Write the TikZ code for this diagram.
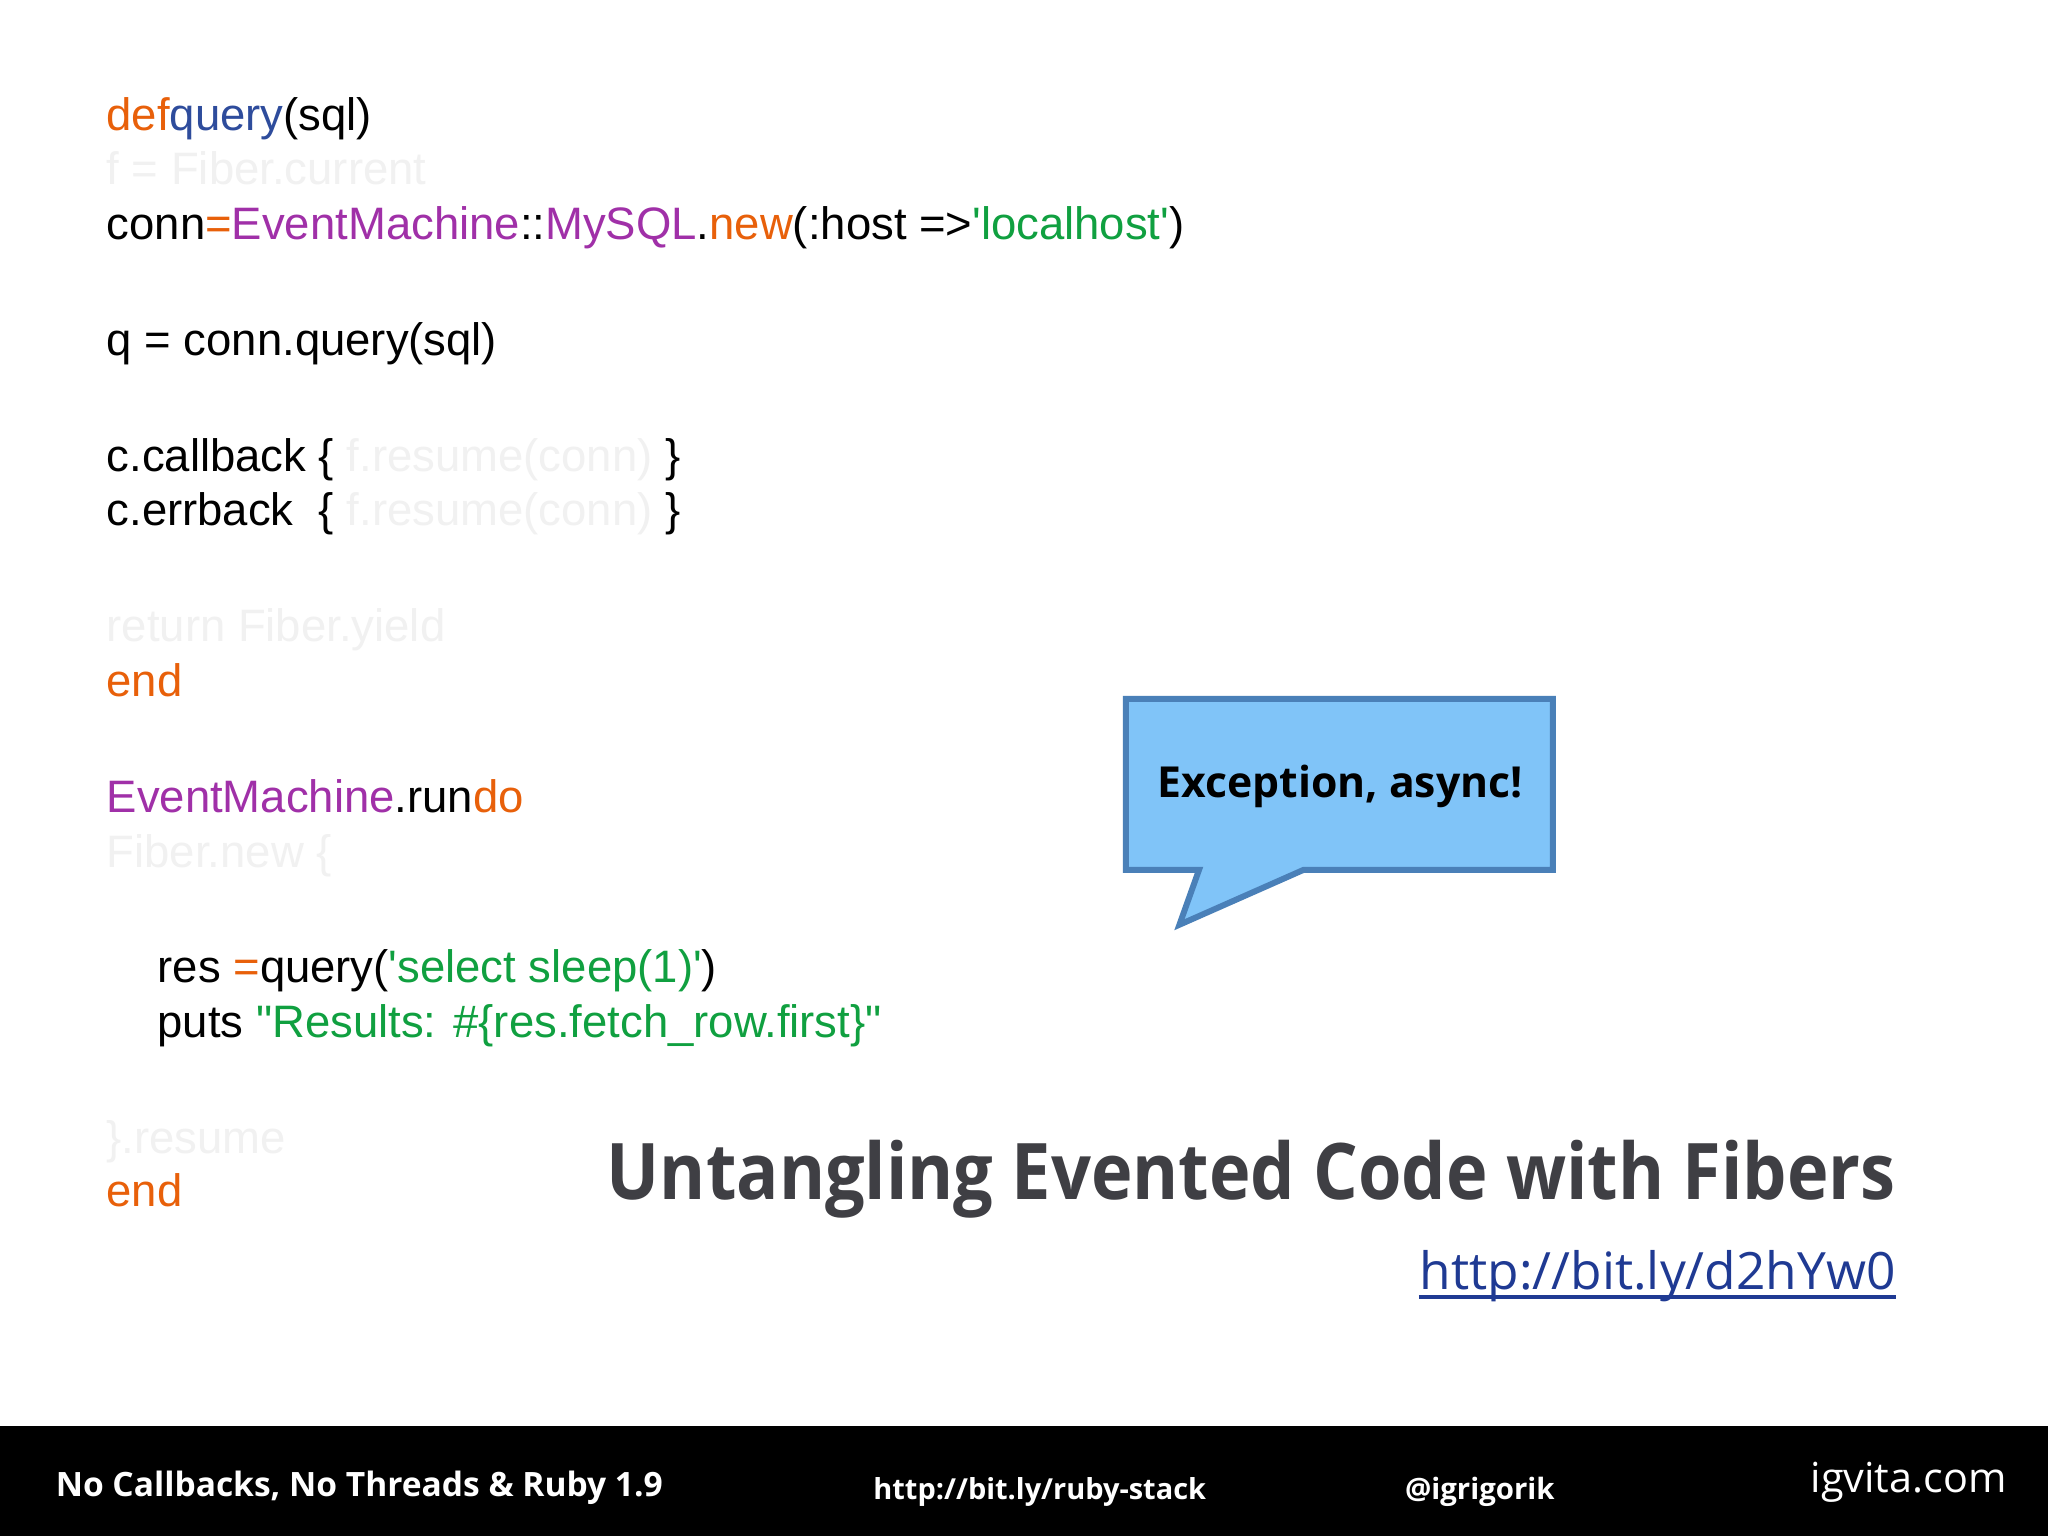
\documentclass[tikz,border=0pt]{standalone}
\usepackage{fontspec}
\setmainfont{Liberation Sans}[Ligatures=TeXOff]
\newfontfamily\os{Open Sans}
\newcommand{\sq}{'}
\newcommand{\dq}{"}
\begin{document}
\begin{tikzpicture}[x=0.01cm,y=-0.01cm,
 code/.style={anchor=base west,inner sep=0,font=\fontsize{9.9pt}{11pt}\selectfont},
 ft/.style={anchor=base west,inner sep=0,text=white,font=\os\bfseries\fontsize{7.3pt}{9pt}\selectfont}]
\definecolor{kw}{HTML}{E8600A}\definecolor{fn}{HTML}{2E4C9C}\definecolor{pu}{HTML}{A030A8}
\definecolor{gr}{HTML}{10A040}\definecolor{fa}{HTML}{F1F1F1}\definecolor{ttl}{HTML}{3F3F44}
\definecolor{lnk}{HTML}{1F3A93}
\fill[white] (0,0) rectangle (1568,1176);
\useasboundingbox (0,0) rectangle (1568,1176);
\node[code] (l1) at (81,100) {\textcolor{kw}{def}\textcolor{fn}{query}(sql)};
\node[code,text=fa] (l2) at (81,141) {f = Fiber.current};
\node[code] (l3) at (81,183) {conn\textcolor{kw}{=}\textcolor{pu}{EventMachine}::\textcolor{pu}{MySQL}.\textcolor{kw}{new}(:host =>\textcolor{gr}{\sq localhost\sq})};
\node[code] (l4) at (81,272) {q = conn.query(sql)};
\node[code] (l5) at (81,361) {c.callback \{ \textcolor{fa}{f.resume(conn)} \}};
\node[code] (l6) at (81,402) {c.errback\ \ \{ \textcolor{fa}{f.resume(conn)} \}};
\node[code,text=fa] (l7) at (81,491) {return Fiber.yield};
\node[code,text=kw] (l8) at (81,533) {end};
\node[code] (l9) at (81,622) {\textcolor{pu}{EventMachine}.run\textcolor{kw}{do}};
\node[code,text=fa] (l10) at (81,664) {Fiber.new \{};
\node[code] (l11) at (120,752) {res \textcolor{kw}{=}query(\textcolor{gr}{\sq select sleep(1)\sq})};
\node[code] (l12) at (120,794) {puts \textcolor{gr}{\dq Results: \#\{res.fetch\_row.first\}\dq}};
\node[code,text=fa] (l13) at (81,883) {\}.resume};
\node[code,text=kw] (l14) at (81,924) {end};
\draw[fill={rgb,255:red,128;green,196;blue,248},draw={rgb,255:red,74;green,128;blue,184},line width=1.3pt]
 (862,535)--(1189,535)--(1189,666)--(998,666)--(903,708)--(918,666)--(862,666)--cycle;
\node[font=\os\bfseries\fontsize{9.3pt}{11pt}\selectfont] (ex) at (1026,602) {Exception, async!};
\node[anchor=base east,inner sep=0,text=ttl,xscale=0.9,font=\os\bfseries\fontsize{17pt}{20pt}\selectfont] (t) at (1452,918) {Untangling Evented Code with Fibers};
\node[anchor=base east,inner sep=0,text=lnk,font=\os\fontsize{11.2pt}{14pt}\selectfont] (u) at (1452,987) {http://bit.ly/d2hYw0};
\draw[lnk,line width=0.8pt] ([yshift=-0.06cm]u.base west) -- ([yshift=-0.06cm]u.base east);
\fill[black] (0,1092) rectangle (1568,1176);
\node[ft] (f1) at (42,1146) {No Callbacks, No Threads \& Ruby 1.9};
\node[ft,font=\os\bfseries\fontsize{6.3pt}{8pt}\selectfont] (f2) at (668,1148) {http://bit.ly/ruby-stack};
\node[ft,font=\os\bfseries\fontsize{6.4pt}{8pt}\selectfont] (f3) at (1075,1148) {@igrigorik};
\node[anchor=base east,inner sep=0,text=white,font=\os\fontsize{9pt}{10pt}\selectfont] (f4) at (1537,1143) {igvita.com};
\end{tikzpicture}
\end{document}
